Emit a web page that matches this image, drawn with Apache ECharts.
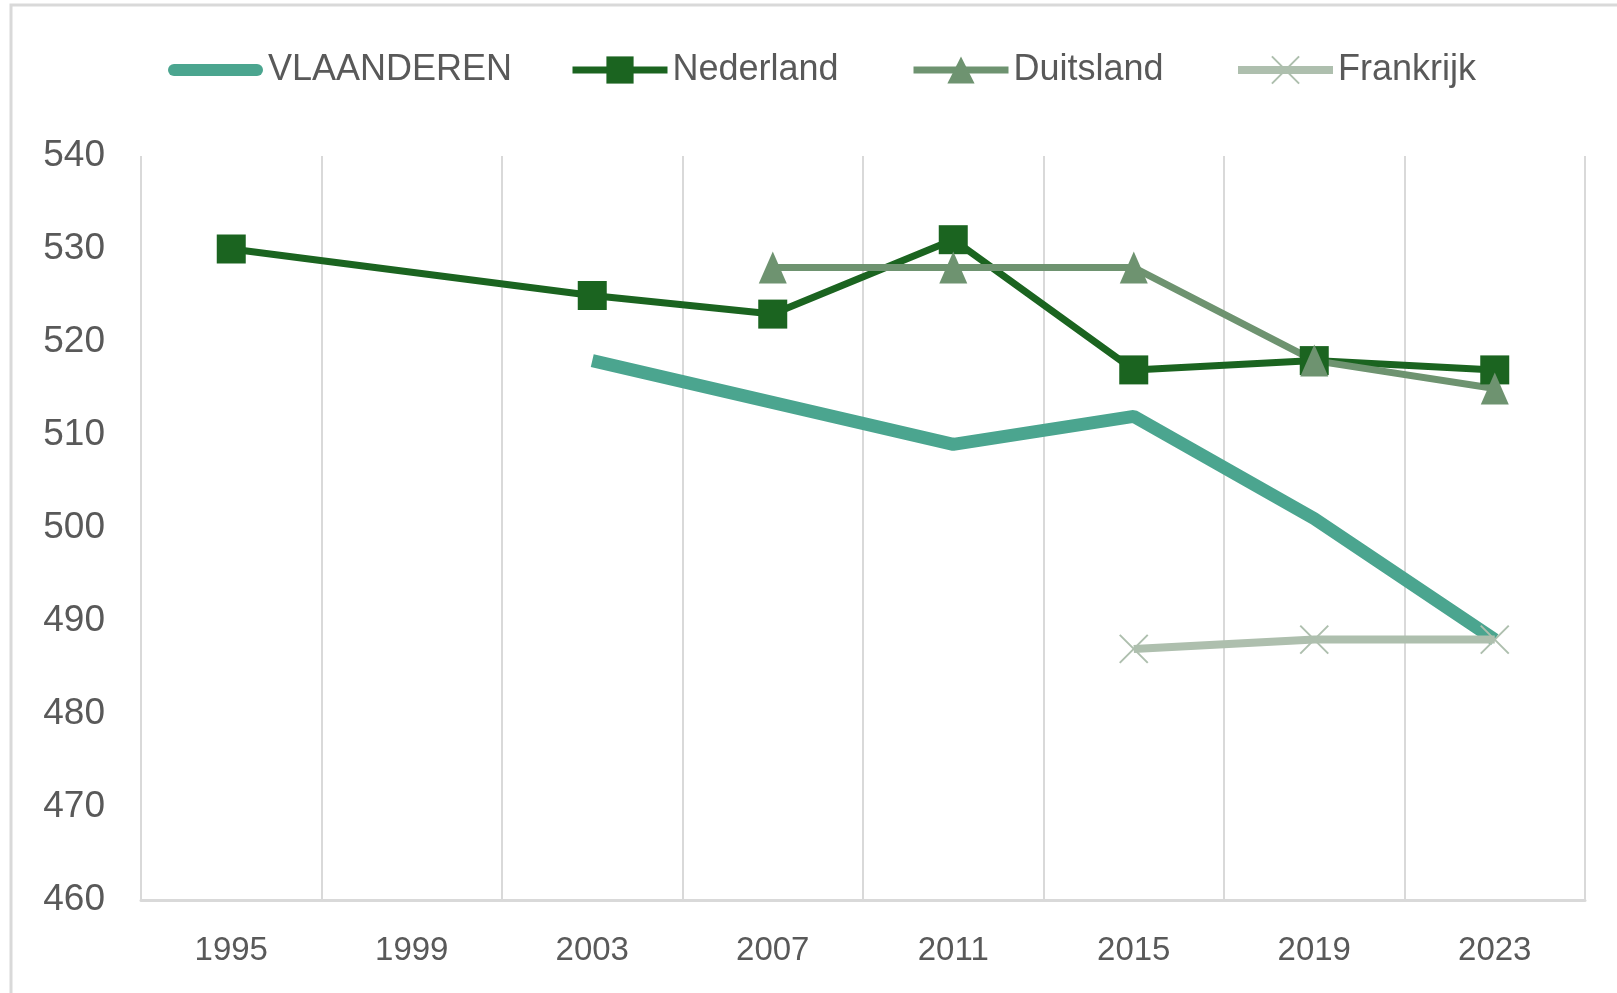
<!DOCTYPE html>
<html>
<head>
<meta charset="utf-8">
<title>Vlaanderen vergeleken</title>
<script src="https://cdn.jsdelivr.net/npm/echarts@6/dist/echarts.min.js"></script>
<style>
    html, body { margin: 0; padding: 0; background: #fff; }
    #chart { width: 1617px; height: 993px; }
</style>
</head>
<body>
<div id="chart"></div>
<script>
var years = ['1995', '1999', '2003', '2007', '2011', '2015', '2019', '2023'];
var yTicks = [460, 470, 480, 490, 500, 510, 520, 530, 540];
var names = ['VLAANDEREN', 'Nederland', 'Duitsland', 'Frankrijk'];

// null = geen deelname in dat jaar
var vlaanderen = [null, null, 518, null, 509, 512, 501, 488];
var nederland = [530, null, 525, 523, 531, 517, 518, 517];
var duitsland = [null, null, null, 528, 528, 528, 518, 515];
var frankrijk = [null, null, null, null, null, 487, 488, 488];

var crossPath = 'path://M0,0L10,10M10,0L0,10';
var barPath = 'path://M6,0H89A6,6,0,0,1,89,12H6A6,6,0,0,1,6,0Z';

// één legend per reeks, zo staan ze op dezelfde plek als in het origineel
var legendLeft = [168, 569, 910, 1234];
var legends = [];
for (var i = 0; i < names.length; i++) {
    legends.push({
        top: 52,
        left: legendLeft[i],
        padding: 0,
        itemWidth: 95,
        itemHeight: 34,
        itemGap: 0,
        lineStyle: { width: 'inherit' },
        textStyle: { fontSize: 36, color: '#595959' },
        data: [i === 0 ? { name: names[i], icon: barPath } : names[i]]
    });
}

var chartDom = echarts.init(document.getElementById('chart'));

chartDom.setOption({
    animation: false,
    backgroundColor: '#fff',
    textStyle: { fontFamily: 'Liberation Sans, Arial, sans-serif' },
    graphic: [{
        type: 'rect',
        shape: { x: 11, y: 5, width: 1640, height: 1020 },
        style: { fill: 'none', stroke: '#D9D9D9', lineWidth: 3 },
        silent: true
    }],
    legend: legends,
    grid: {
        left: 141,
        right: 32,
        top: 156,
        bottom: 93
    },
    xAxis: {
        type: 'category',
        data: years,
        boundaryGap: true,
        axisLine: { lineStyle: { color: '#D9D9D9', width: 3 } },
        axisTick: { show: false },
        axisLabel: { color: '#595959', fontSize: 33, margin: 34 },
        splitLine: { show: true, lineStyle: { color: '#D9D9D9', width: 2 } }
    },
    yAxis: {
        type: 'value',
        min: yTicks[0],
        max: yTicks[yTicks.length - 1],
        interval: 10,
        axisLine: { show: false },
        axisTick: { show: false },
        splitLine: { show: false },
        axisLabel: { color: '#595959', fontSize: 37, margin: 36 }
    },
    series: [{
        name: names[0],
        type: 'line',
        data: vlaanderen,
        connectNulls: true,
        symbol: 'none',
        color: '#4BA58F',
        lineStyle: { width: 13, color: '#4BA58F' }
    }, {
        name: names[1],
        type: 'line',
        data: nederland,
        connectNulls: true,
        symbol: 'rect',
        symbolSize: 29,
        color: '#1B6420',
        lineStyle: { width: 7, color: '#1B6420' },
        itemStyle: { color: '#1B6420' }
    }, {
        name: names[2],
        type: 'line',
        data: duitsland,
        connectNulls: true,
        symbol: 'triangle',
        symbolSize: [28, 32],
        color: '#6E9370',
        lineStyle: { width: 7, color: '#6E9370' },
        itemStyle: { color: '#6E9370' }
    }, {
        name: names[3],
        type: 'line',
        data: frankrijk,
        connectNulls: true,
        symbol: crossPath,
        symbolSize: 28,
        color: '#AEBFAE',
        lineStyle: { width: 8, color: '#AEBFAE' },
        itemStyle: { color: '#AEBFAE', borderColor: '#AEBFAE', borderWidth: 2 }
    }]
});
</script>
</body>
</html>
